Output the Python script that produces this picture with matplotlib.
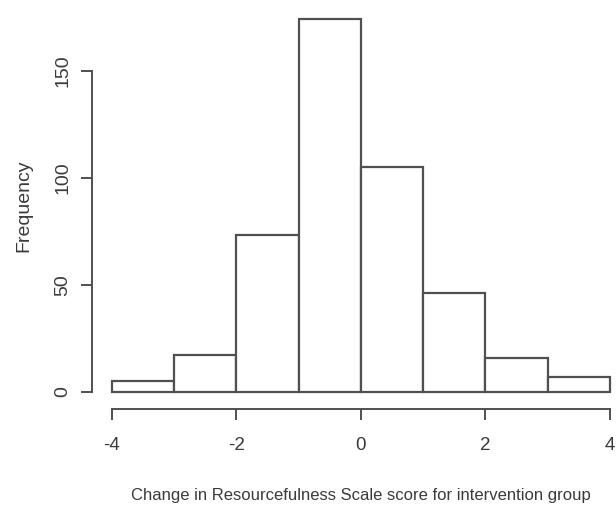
import numpy as np
import matplotlib.pyplot as plt

# histogram bins and counts
bin_edges = [-4, -3, -2, -1, 0, 1, 2, 3, 4]
counts = [5, 17, 73, 174, 105, 46, 16, 7]
y_ticks = [0, 50, 100, 150]
x_ticks = [-4, -2, 0, 2, 4]

ink = '#3a3a3a'
font = ['Liberation Sans', 'DejaVu Sans']

fig = plt.figure(figsize=(6.16, 5.08), dpi=100)
W, H = 616, 508
# axes placed in pixel terms: left at x=92, bottom (ylim low) at y=409
x0, x1 = 92, 616
y_bot, y_top = 409, 2
ax = fig.add_axes([x0 / W, (H - y_bot) / H, (x1 - x0) / W, (y_bot - y_top) / H])

lefts = np.array(bin_edges[:-1])
widths = np.diff(bin_edges)
ax.bar(lefts, counts, width=widths, align='edge', facecolor='white',
       edgecolor='#505050', linewidth=1.6)

ax.set_xlim(-4.32, 4.096)
ax.set_ylim(-8, 182)

for s in ['top', 'right']:
    ax.spines[s].set_visible(False)
ax.spines['left'].set_bounds(0, 150)
ax.spines['bottom'].set_bounds(-4, 4)
for s in ['left', 'bottom']:
    ax.spines[s].set_color('#505050')
    ax.spines[s].set_linewidth(1.4)

ax.set_xticks(x_ticks)
ax.set_xticklabels([str(t) for t in x_ticks], family=font, fontsize=13.5, color=ink)
ax.set_yticks(y_ticks)
ax.set_yticklabels([str(t) for t in y_ticks], family=font, fontsize=14, color=ink,
                   rotation=90, va='center')
ax.tick_params(axis='x', length=8, width=1.4, color='#505050', pad=12)
ax.tick_params(axis='y', length=8, width=1.4, color='#505050', pad=7)

ax.set_xlabel('Change in Resourcefulness Scale score for intervention group',
              family=font, fontsize=12, color=ink)
ax.xaxis.set_label_coords(0.513, -0.193)
ax.set_ylabel('Frequency', family=font, fontsize=14, color=ink, labelpad=16)

fig.savefig('out.png', dpi=100)
